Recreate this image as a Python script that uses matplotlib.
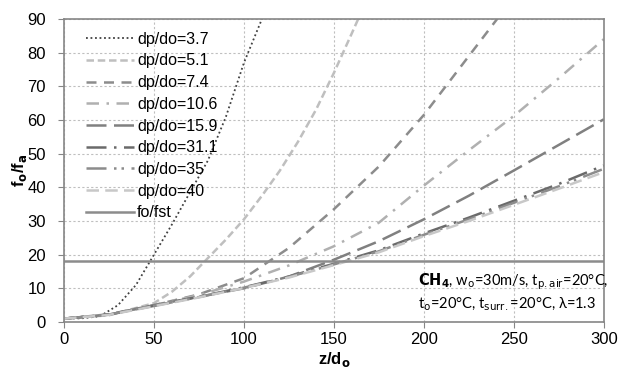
import numpy as np
import matplotlib
matplotlib.use("Agg")
import matplotlib.pyplot as plt

plt.rcParams['font.family'] = ['Liberation Sans', 'DejaVu Sans']

# curves: (z/do, fo/fa)
z_37 = [0, 10, 20, 30, 40, 48, 60, 70, 80, 90, 100, 110, 112]
f_37 = [1, 1.1, 1.7, 5, 11, 18.2, 29, 38.5, 48, 61, 77, 90, 93]

z_51 = [0, 25, 50, 60, 70, 80, 90, 100, 110, 120, 130, 140, 150, 160, 166]
f_51 = [1, 2, 5.6, 9, 13.5, 19, 24.5, 30.5, 37.5, 45, 53.5, 63, 74, 85.8, 93]

z_74 = [0, 25, 50, 75, 100, 125, 150, 175, 200, 225, 240, 245]
f_74 = [1, 2.3, 5, 8.2, 13, 22, 33.5, 46.2, 61.5, 79, 89.5, 93]

z_106 = [0, 25, 50, 75, 100, 125, 150, 175, 200, 225, 250, 275, 300]
f_106 = [1, 2.2, 5, 8, 12, 16.8, 22.5, 29.5, 40.5, 51, 61.2, 72.4, 84]

z_159 = [0, 25, 50, 75, 100, 125, 150, 175, 200, 225, 250, 275, 300]
f_159 = [1, 2.2, 5, 7.5, 10, 13.5, 18.5, 24, 30.5, 37.5, 45, 52.6, 60.2]

z_311 = [0, 25, 50, 75, 100, 125, 150, 175, 200, 225, 250, 275, 300]
f_311 = [1, 2.2, 4.8, 7.5, 10.3, 13.5, 17.3, 21.3, 26.3, 31, 36, 41, 46.5]

z_35 = [0, 25, 50, 75, 100, 125, 150, 175, 200, 225, 250, 275, 300]
f_35 = [1, 2.2, 4.8, 7.4, 10.2, 13.4, 17.1, 21, 25.9, 30.5, 35.4, 40.3, 45.5]

z_40 = [0, 25, 50, 75, 100, 125, 150, 175, 200, 225, 250, 275, 300]
f_40 = [1, 2.1, 4.7, 7.3, 10.1, 13.2, 16.9, 20.7, 25.5, 30, 34.8, 39.6, 44.5]

fo_fst = 18.2

fig = plt.figure(figsize=(6.18, 3.69), dpi=100)
ax = fig.add_axes([0.1036, 0.1274, 0.8734, 0.8211])

ax.plot(z_37, f_37, color='#404040', lw=1.3, ls=(0, (1, 1.5)), label='dp/do=3.7')
ax.plot(z_51, f_51, color='#bfbfbf', lw=1.8, ls=(0, (3, 1.5)), label='dp/do=5.1')
ax.plot(z_74, f_74, color='#8c8c8c', lw=1.8, ls=(0, (4, 3)), label='dp/do=7.4')
ax.plot(z_106, f_106, color='#b0b0b0', lw=1.8, ls=(0, (5, 3, 1, 3)), label='dp/do=10.6')
ax.plot(z_159, f_159, color='#808080', lw=1.8, ls=(0, (8, 3)), label='dp/do=15.9')
ax.plot(z_311, f_311, color='#6a6a6a', lw=1.8, ls=(0, (8, 3, 1, 3)), label='dp/do=31.1')
ax.plot(z_35, f_35, color='#8c8c8c', lw=1.8, ls=(0, (8, 3, 1, 2, 1, 3)), label='dp/do=35')
ax.plot(z_40, f_40, color='#c8c8c8', lw=1.8, ls=(0, (5, 2.5)), label='dp/do=40')
ax.axhline(fo_fst, color='#8c8c8c', lw=1.8, label='fo/fst')

ax.set_xlim(0, 300)
ax.set_ylim(0, 90)
ax.set_xticks(np.arange(0, 301, 50))
ax.set_yticks(np.arange(0, 91, 10))
ax.grid(True, color='#bfbfbf', ls=(0, (2, 2)), lw=0.8)
ax.set_axisbelow(True)
for s in ax.spines.values():
    s.set_color('#868686')
    s.set_linewidth(1.2)
ax.tick_params(colors='#868686', labelcolor='black', labelsize=12, length=4)
ax.tick_params(axis='y', pad=9)

ax.set_xlabel('z/d$_\\mathbf{o}$', fontsize=12, fontweight='bold', labelpad=2)
ax.set_ylabel('f$_\\mathbf{o}$/f$_\\mathbf{a}$', fontsize=12, fontweight='bold', labelpad=-1)

leg = ax.legend(loc='upper left', frameon=False, fontsize=11.5, handlelength=3.0,
                handletextpad=0.2, labelspacing=0.42, borderaxespad=0.3,
                bbox_to_anchor=(0.02, 0.995))

ax.text(197, 11, r'$\mathbf{CH_4}$, w$_\mathrm{o}$=30m/s, t$_\mathrm{p.air}$=20°C,',
        fontsize=10.5, family=['Lato', 'DejaVu Sans'])
ax.text(197, 4, r't$_\mathrm{o}$=20°C, t$_\mathrm{surr.}$=20°C, λ=1.3',
        fontsize=10.5, family=['Lato', 'DejaVu Sans'])

fig.savefig('out.png', dpi=100)
